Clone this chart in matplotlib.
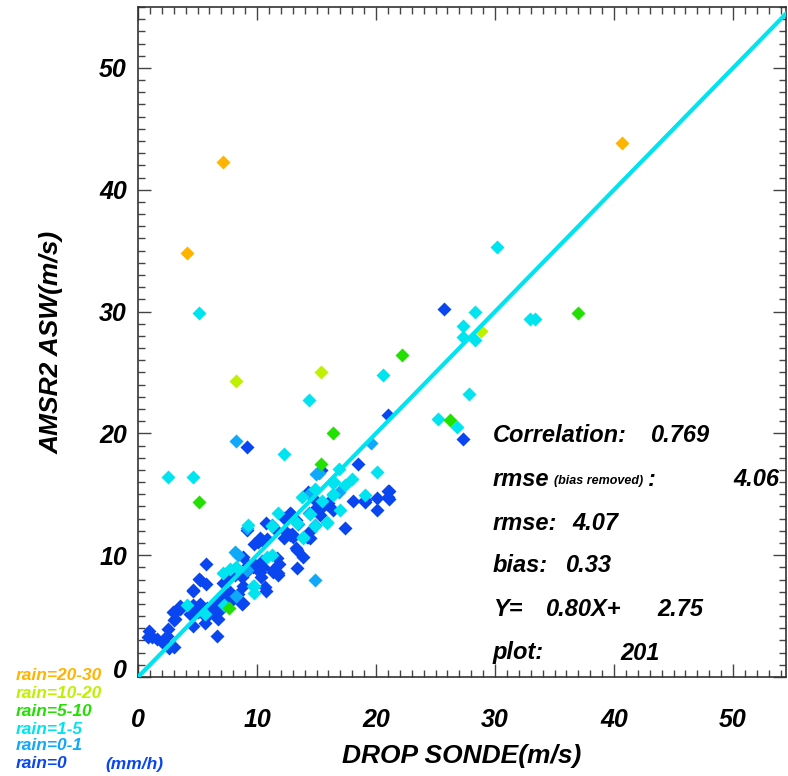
import numpy as np
import matplotlib as mpl
mpl.use('Agg')
import matplotlib.pyplot as plt
import matplotlib.transforms as mtransforms

plt.rcParams['font.family'] = ['Liberation Sans', 'DejaVu Sans']
plt.rcParams['font.weight'] = 'bold'
plt.rcParams['font.style'] = 'italic'

# rain classes (mm/h) and their colours
rain_labels = ["rain=20-30", "rain=10-20", "rain=5-10", "rain=1-5", "rain=0-1", "rain=0"]
rain_colors = ["#ffb400", "#bff000", "#22e000", "#00e4f0", "#10a8f8", "#0a46f0"]

# drop sonde (x) vs AMSR2 ASW (y), grouped by rain class
x_r0 = [25.7, 21.0, 27.3, 9.2, 18.5, 15.4, 21.1, 20.97, 20.06, 18.04, 19.08, 20.06, 15.85, 16.42,
        14.96, 15.3, 17.4, 14.45, 14.2, 14.45, 12.77, 12.3, 13.28, 10.75, 11.6, 12.35, 12.9, 12.27,
        13.05, 10.25, 10.48, 10.1, 9.75, 13.33, 13.84, 13.33, 11.65, 11.87, 11.37, 11.79, 10.4, 10.48,
        10.1, 10.3, 8.85, 9.27, 8.99, 8.7, 9.69, 10.67, 8.15, 5.71, 8.29, 9.83, 10.25, 11.37, 11.8,
        5.21, 5.71, 7.73, 7.17, 8.85, 10.75, 4.6, 7.73, 8.43, 6.9, 7.4, 8.8, 3.53, 3.1, 3.0, 4.65,
        5.21, 5.77, 4.37, 5.07, 6.19, 6.47, 6.89, 7.73, 8.77, 6.75, 5.71, 4.6, 0.95, 1.15, 1.57, 2.07,
        2.55, 2.46, 2.63, 3.05, 6.67, 14.3, 14.87, 16.0, 19.08, 21.03, 21.1, 12.83, 9.2, 10.8, 12.77,
        15.4, 14.3, 13.28, 5.63, 3.53, 0.87, 1.99, 3.1, 2.97, 5.15, 4.65]
y_r0 = [30.2, 21.5, 19.5, 18.9, 17.5, 17.0, 15.25, 14.8, 14.7, 14.45, 14.4, 13.7, 14.2, 13.7,
        13.85, 13.3, 12.2, 11.95, 11.5, 11.45, 13.5, 13.05, 12.9, 12.65, 12.05, 11.95, 11.75, 11.4,
        11.5, 11.4, 11.2, 11.1, 10.9, 10.45, 9.85, 8.95, 9.75, 9.3, 8.78, 8.37, 9.55, 9.05,
        8.78, 8.2, 9.85, 9.2, 8.5, 8.2, 9.05, 7.4, 8.37, 9.25, 8.78, 9.2, 8.6, 8.6, 8.5,
        8.0, 7.6, 8.2, 7.7, 7.5, 7.1, 7.1, 7.0, 6.85, 6.45, 6.85, 6.1, 5.6, 5.35, 4.65, 5.9,
        6.0, 5.7, 5.2, 5.3, 5.35, 5.8, 5.5, 6.15, 6.0, 4.8, 4.9, 4.2, 3.8, 3.3, 3.15, 2.95,
        3.9, 3.35, 2.4, 2.45, 3.35, 15.2, 14.5, 14.25, 14.5, 15.27, 14.6, 13.4, 12.05, 11.3, 11.65,
        13.85, 11.5, 10.55, 4.45, 5.8, 3.3, 2.9, 4.8, 5.35, 8.05, 7.15]

x_r01 = [8.2, 19.55, 14.96, 15.2, 16.9, 14.4, 14.4, 14.87, 13.47, 11.23, 9.13, 8.15, 8.43, 14.87,
         9.13, 8.24]
y_r01 = [19.4, 19.25, 16.7, 16.75, 15.15, 15.05, 13.45, 12.5, 12.6, 12.5, 12.2, 10.3, 10.0, 8.0,
         8.78, 6.67]

x_r15 = [5.13, 30.2, 28.3, 27.3, 27.3, 28.3, 32.9, 33.4, 20.6, 27.8, 14.4, 25.2, 26.8, 12.27, 2.55,
         4.6, 20.06, 18.0, 16.47, 17.4, 16.35, 19.08, 14.87, 13.74, 15.42, 16.97, 15.9, 13.84, 11.8,
         9.27, 10.8, 11.23, 8.24, 9.69, 7.73, 7.17, 9.75, 9.75, 4.09, 5.63, 7.25, 16.9, 16.4, 16.4,
         14.45, 14.87, 15.85, 11.3, 13.33, 13.84]
y_r15 = [29.9, 35.3, 30.0, 28.8, 27.9, 27.7, 29.4, 29.4, 24.8, 23.2, 22.7, 21.2, 20.5, 18.3, 16.45,
         16.45, 16.85, 16.25, 16.0, 15.75, 15.05, 14.95, 15.4, 14.8, 14.45, 13.7, 12.75, 11.4, 13.45,
         12.5, 9.85, 10.05, 9.05, 7.5, 8.9, 8.5, 7.5, 6.9, 5.95, 5.2, 5.95, 17.1, 15.9, 14.95,
         13.4, 12.4, 12.65, 12.4, 12.67, 11.5]

x_r510 = [22.2, 37.0, 26.2, 16.4, 15.4, 5.13, 7.67]
y_r510 = [26.4, 29.9, 21.1, 20.0, 17.5, 14.4, 5.7]

x_r1020 = [8.2, 15.4, 28.8]
y_r1020 = [24.3, 25.0, 28.4]

x_r2030 = [7.17, 4.09, 40.7]
y_r2030 = [42.3, 34.8, 43.8]

stat_names = ["Correlation:", "rmse", "rmse:", "bias:", "Y=", "plot:"]
stat_values = ["0.769", "4.06", "4.07", "0.33", "0.80X+", "201"]
fit_intercept = "2.75"

x_ticks = [0, 10, 20, 30, 40, 50]
y_ticks = [0, 10, 20, 30, 40, 50]

W, H = 788, 776
DPI = 100
fig = plt.figure(figsize=(W / DPI, H / DPI), dpi=DPI)
ax = fig.add_axes([138 / W, 1 - 677 / H, (786 - 138) / W, (677 - 7) / H])

groups = [(x_r0, y_r0, 5), (x_r01, y_r01, 4), (x_r15, y_r15, 3),
          (x_r510, y_r510, 2), (x_r1020, y_r1020, 1), (x_r2030, y_r2030, 0)]
for xs, ys, ci in groups:
    ax.plot(xs, ys, 'D', ms=7, color=rain_colors[ci], mec='none')

ax.plot([0, 55], [0, 55], color="#00e4f0", lw=3, solid_capstyle='butt', zorder=5)

ax.set_xlim(0, 54.45)
ax.set_ylim(0, 55)
ax.set_xticks(x_ticks)
ax.set_yticks(y_ticks)
ax.set_xticks(np.arange(0, 55, 1), minor=True)
ax.set_yticks(np.arange(0, 56, 1), minor=True)
ax.tick_params(which='both', direction='in', top=True, right=True, color='#444444', width=1)
ax.tick_params(which='major', length=9.5)
ax.tick_params(which='minor', length=5)
ax.tick_params(axis='x', pad=22, labelsize=18)
ax.tick_params(axis='y', pad=8, labelsize=18)
for sp in ax.spines.values():
    sp.set_color('#333333')
    sp.set_linewidth(1.2)

# the y "0" label sits a little above its tick
fig.canvas.draw()
lbl0 = ax.get_yticklabels()[0]
lbl0.set_transform(lbl0.get_transform() +
                   mtransforms.ScaledTranslation(0, 9 / DPI, fig.dpi_scale_trans))

def ftxt(px, py, s, **kw):
    return fig.text(px / W, 1 - py / H, s, va='center', **kw)

ftxt(462, 756, "DROP SONDE(m/s)", ha='center', fontsize=19)
ftxt(52, 342, "AMSR2 ASW(m/s)", ha='center', rotation=90, fontsize=19)

rows = [435, 479, 523, 566, 610, 653]
val_x = [650, 733, 572, 565, 545, 620]
for i in range(6):
    ftxt(493, rows[i], stat_names[i], fontsize=17)
    ftxt(val_x[i], rows[i], stat_values[i], fontsize=17)
ftxt(657, rows[4], fit_intercept, fontsize=17)

# "rmse (bias removed) :" built from pieces
renderer = fig.canvas.get_renderer()
t_rmse = [t for t in fig.texts if t.get_text() == "rmse"][0]
bb = t_rmse.get_window_extent(renderer)
x_after = bb.x1 + 5
t_br = fig.text(x_after / W, 1 - (rows[1] + 2) / H, "(bias removed)", va='center', fontsize=9)
bb2 = t_br.get_window_extent(renderer)
fig.text((bb2.x1 + 4) / W, 1 - rows[1] / H, ":", va='center', fontsize=17)

leg_y = [675, 693, 711, 729, 746, 764]
for i in range(6):
    ftxt(16, leg_y[i], rain_labels[i], color=rain_colors[i], fontsize=12.5)
ftxt(105, 764, "(mm/h)", color=rain_colors[5], fontsize=12.5)

plt.savefig("out.png", dpi=DPI)
